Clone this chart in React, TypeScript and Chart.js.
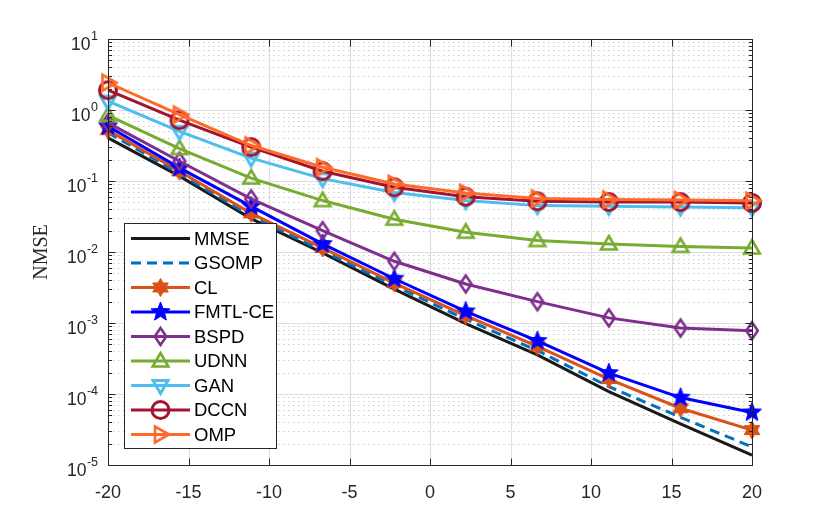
import React, { useEffect, useRef } from 'react';
import { Chart, registerables } from 'chart.js';

Chart.register(...registerables);

// SNR (dB) sample points
const snr = [-20, -15.56, -11.11, -6.67, -2.22, 2.22, 6.67, 11.11, 15.56, 20];

// NMSE values
const mmse = [0.405, 0.117, 0.0295, 0.0097, 0.003, 0.00098, 0.000355, 0.000108, 3.8e-5, 1.38e-5];
const gsomp = [0.48, 0.127, 0.032, 0.0104, 0.00335, 0.00113, 0.00041, 0.000127, 4.7e-5, 1.8e-5];
const cl = [0.52, 0.137, 0.035, 0.0114, 0.00365, 0.00127, 0.00047, 0.000162, 6.3e-5, 3.1e-5];
const fmtl = [0.59, 0.153, 0.044, 0.013, 0.0042, 0.00146, 0.00056, 0.000197, 8.9e-5, 5.5e-5];
const bspd = [0.66, 0.19, 0.056, 0.02, 0.0074, 0.00355, 0.002, 0.00118, 0.00085, 0.00078];
const udnn = [0.84, 0.286, 0.11, 0.053, 0.029, 0.019, 0.0145, 0.013, 0.012, 0.0114];
const gan = [1.33, 0.5, 0.21, 0.108, 0.069, 0.053, 0.045, 0.044, 0.043, 0.042];
const dccn = [1.9, 0.72, 0.3, 0.137, 0.0815, 0.06, 0.0518, 0.0507, 0.0505, 0.049];
const omp = [2.42, 0.86, 0.316, 0.156, 0.091, 0.068, 0.0565, 0.0547, 0.054, 0.0525];

// axis ticks
const xTicks = [-20, -15, -10, -5, 0, 5, 10, 15, 20];
const yExponents = [-5, -4, -3, -2, -1, 0, 1];

type Shape = 'none' | 'hexagram' | 'pentagram' | 'diamond' | 'triUp' | 'triDown' | 'circle' | 'triRight';

interface Series {
  label: string;
  data: number[];
  color: string;
  shape: Shape;
  dash: number[];
}

const series: Series[] = [
  { label: 'MMSE', data: mmse, color: '#1a1a1a', shape: 'none', dash: [] },
  { label: 'GSOMP', data: gsomp, color: '#0072BD', shape: 'none', dash: [10, 6] },
  { label: 'CL', data: cl, color: '#D95319', shape: 'hexagram', dash: [] },
  { label: 'FMTL-CE', data: fmtl, color: '#0000FF', shape: 'pentagram', dash: [] },
  { label: 'BSPD', data: bspd, color: '#7E2F8E', shape: 'diamond', dash: [] },
  { label: 'UDNN', data: udnn, color: '#77AC30', shape: 'triUp', dash: [] },
  { label: 'GAN', data: gan, color: '#4DBEEE', shape: 'triDown', dash: [] },
  { label: 'DCCN', data: dccn, color: '#A2142F', shape: 'circle', dash: [] },
  { label: 'OMP', data: omp, color: '#FF6929', shape: 'triRight', dash: [] },
];

const FONT = '"Liberation Sans", Arial, Helvetica, sans-serif';
const AXIS_COLOR = '#262626';
const LINE_W = 3;

function starPath(ctx: CanvasRenderingContext2D, n: number, ro: number, ri: number) {
  ctx.beginPath();
  for (let i = 0; i < n * 2; i++) {
    const r = i % 2 === 0 ? ro : ri;
    const a = -Math.PI / 2 + (i * Math.PI) / n;
    const px = r * Math.cos(a);
    const py = r * Math.sin(a);
    if (i === 0) ctx.moveTo(px, py);
    else ctx.lineTo(px, py);
  }
  ctx.closePath();
}

// draws a marker centred on (0,0)
function drawShape(ctx: CanvasRenderingContext2D, shape: Shape, color: string) {
  ctx.strokeStyle = color;
  ctx.fillStyle = color;
  ctx.lineWidth = 2.6;
  ctx.lineJoin = 'miter';
  ctx.setLineDash([]);
  switch (shape) {
    case 'pentagram':
      starPath(ctx, 5, 10, 4.3);
      ctx.fill();
      ctx.lineWidth = 1;
      ctx.stroke();
      break;
    case 'hexagram':
      starPath(ctx, 6, 9, 5.2);
      ctx.fill();
      ctx.lineWidth = 1;
      ctx.stroke();
      break;
    case 'diamond':
      ctx.beginPath();
      ctx.moveTo(0, -8.5);
      ctx.lineTo(5.8, 0);
      ctx.lineTo(0, 8.5);
      ctx.lineTo(-5.8, 0);
      ctx.closePath();
      ctx.stroke();
      break;
    case 'triUp':
      ctx.beginPath();
      ctx.moveTo(0, -8);
      ctx.lineTo(7.8, 5.5);
      ctx.lineTo(-7.8, 5.5);
      ctx.closePath();
      ctx.stroke();
      break;
    case 'triDown':
      ctx.lineWidth = 3;
      ctx.beginPath();
      ctx.moveTo(0, 8);
      ctx.lineTo(7.5, -5);
      ctx.lineTo(-7.5, -5);
      ctx.closePath();
      ctx.stroke();
      break;
    case 'triRight':
      ctx.beginPath();
      ctx.moveTo(8.5, 0);
      ctx.lineTo(-5.5, -8);
      ctx.lineTo(-5.5, 8);
      ctx.closePath();
      ctx.stroke();
      break;
    case 'circle':
      ctx.lineWidth = 3;
      ctx.beginPath();
      ctx.arc(0, 0, 8.5, 0, Math.PI * 2);
      ctx.stroke();
      break;
    default:
      break;
  }
}

function markerCanvas(shape: Shape, color: string): HTMLCanvasElement {
  const size = 28;
  const c = document.createElement('canvas');
  c.width = size;
  c.height = size;
  const ctx = c.getContext('2d');
  if (ctx) {
    ctx.translate(size / 2, size / 2);
    drawShape(ctx, shape, color);
  }
  return c;
}

const matlabAxes = {
  id: 'matlabAxes',
  beforeDatasetsDraw(chart: Chart) {
    const { ctx, chartArea: a } = chart;
    const x = chart.scales.x;
    const y = chart.scales.y;
    ctx.save();
    // minor dotted grid
    ctx.strokeStyle = '#cccccc';
    ctx.lineWidth = 1;
    ctx.setLineDash([1.5, 3.5]);
    for (let e = -5; e < 1; e++) {
      for (let m = 2; m <= 9; m++) {
        const py = Math.round(y.getPixelForValue(m * Math.pow(10, e))) + 0.5;
        ctx.beginPath();
        ctx.moveTo(a.left, py);
        ctx.lineTo(a.right, py);
        ctx.stroke();
      }
    }
    // major grid
    ctx.setLineDash([]);
    ctx.strokeStyle = '#dedede';
    ctx.lineWidth = 1.2;
    for (let e = -4; e <= 0; e++) {
      const py = Math.round(y.getPixelForValue(Math.pow(10, e))) + 0.5;
      ctx.beginPath();
      ctx.moveTo(a.left, py);
      ctx.lineTo(a.right, py);
      ctx.stroke();
    }
    xTicks.slice(1, -1).forEach((v) => {
      const px = Math.round(x.getPixelForValue(v)) + 0.5;
      ctx.beginPath();
      ctx.moveTo(px, a.top);
      ctx.lineTo(px, a.bottom);
      ctx.stroke();
    });
    ctx.restore();
  },
  afterDatasetsDraw(chart: Chart) {
    const { ctx, chartArea: a } = chart;
    const x = chart.scales.x;
    const y = chart.scales.y;
    ctx.save();
    ctx.strokeStyle = AXIS_COLOR;
    ctx.lineWidth = 1;
    ctx.setLineDash([]);
    const l = Math.round(a.left) + 0.5;
    const r = Math.round(a.right) + 0.5;
    const t = Math.round(a.top) + 0.5;
    const b = Math.round(a.bottom) + 0.5;
    ctx.strokeRect(l, t, r - l, b - t);
    ctx.beginPath();
    for (let e = -5; e <= 1; e++) {
      for (let m = 1; m <= 9; m++) {
        const v = m * Math.pow(10, e);
        if (v > 10.0001) break;
        const py = Math.round(y.getPixelForValue(v)) + 0.5;
        const len = m === 1 ? 7 : 3.5;
        ctx.moveTo(l, py);
        ctx.lineTo(l + len, py);
        ctx.moveTo(r, py);
        ctx.lineTo(r - len, py);
      }
    }
    xTicks.forEach((v) => {
      const px = Math.round(x.getPixelForValue(v)) + 0.5;
      ctx.moveTo(px, b);
      ctx.lineTo(px, b - 7);
      ctx.moveTo(px, t);
      ctx.lineTo(px, t + 7);
    });
    ctx.stroke();
    ctx.restore();
  },
  afterDraw(chart: Chart) {
    const { ctx } = chart;
    const y = chart.scales.y;
    ctx.save();
    // y tick labels 10^n
    ctx.fillStyle = AXIS_COLOR;
    ctx.textAlign = 'left';
    ctx.textBaseline = 'alphabetic';
    const rightEdge = 98;
    yExponents.forEach((e) => {
      const py = y.getPixelForValue(Math.pow(10, e));
      const sup = String(e);
      ctx.font = `12.5px ${FONT}`;
      const supW = ctx.measureText(sup).width;
      ctx.font = `17.5px ${FONT}`;
      const baseW = ctx.measureText('10').width;
      ctx.fillText('10', rightEdge - supW - baseW - 0.5, py + 10.5);
      ctx.font = `12.5px ${FONT}`;
      ctx.fillText(sup, rightEdge - supW, py + 0.5);
    });
    // y axis title
    ctx.save();
    ctx.translate(42, 252);
    ctx.rotate(-Math.PI / 2);
    ctx.font = '20px "Liberation Serif", "Times New Roman", serif';
    ctx.textAlign = 'center';
    ctx.textBaseline = 'middle';
    ctx.fillText('NMSE', 0, 0);
    ctx.restore();

    // legend inside the axes
    const lx = 124.5;
    const ly = 223.5;
    const lw = 152;
    const lh = 225;
    ctx.fillStyle = '#ffffff';
    ctx.fillRect(lx, ly, lw, lh);
    ctx.strokeStyle = AXIS_COLOR;
    ctx.lineWidth = 1;
    ctx.strokeRect(lx, ly, lw, lh);
    series.forEach((s, i) => {
      const ry = 238.5 + i * 24.5;
      ctx.save();
      ctx.strokeStyle = s.color;
      ctx.lineWidth = LINE_W;
      ctx.setLineDash(s.dash);
      ctx.beginPath();
      ctx.moveTo(131, ry);
      ctx.lineTo(190, ry);
      ctx.stroke();
      ctx.translate(160.5, ry);
      drawShape(ctx, s.shape, s.color);
      ctx.restore();
      ctx.fillStyle = '#000000';
      ctx.font = `18.5px ${FONT}`;
      ctx.textAlign = 'left';
      ctx.textBaseline = 'middle';
      ctx.fillText(s.label, 194, ry + 1);
    });
    ctx.restore();
  },
};

const App: React.FC = () => {
  const canvasRef = useRef<HTMLCanvasElement | null>(null);
  const chartInstance = useRef<Chart | null>(null);

  useEffect(() => {
    if (!canvasRef.current) return;
    if (chartInstance.current) {
      chartInstance.current.destroy();
    }
    const ctx = canvasRef.current.getContext('2d');
    if (!ctx) return;

    const datasets = series.map((s, i) => ({
      label: s.label,
      data: snr.map((x, k) => ({ x, y: s.data[k] })),
      borderColor: s.color,
      backgroundColor: s.color,
      borderWidth: LINE_W,
      borderDash: s.dash,
      pointStyle: s.shape === 'none' ? false : markerCanvas(s.shape, s.color),
      pointRadius: s.shape === 'none' ? 0 : 6,
      pointHoverRadius: s.shape === 'none' ? 0 : 6,
      tension: 0,
      fill: false,
      clip: false as const,
      order: series.length - i,
    }));

    chartInstance.current = new Chart(ctx, {
      type: 'line',
      data: { datasets: datasets as any },
      options: {
        animation: false,
        responsive: true,
        maintainAspectRatio: false,
        events: [],
        layout: { padding: { left: 0, right: 78, top: 39, bottom: 0 } },
        plugins: {
          legend: { display: false },
          tooltip: { enabled: false },
        },
        scales: {
          x: {
            type: 'linear',
            min: -20,
            max: 20,
            afterBuildTicks: (scale: any) => {
              scale.ticks = xTicks.map((v) => ({ value: v }));
            },
            afterFit: (scale: any) => {
              scale.height = 61;
            },
            ticks: {
              autoSkip: false,
              maxRotation: 0,
              padding: 17,
              color: AXIS_COLOR,
              font: { family: FONT, size: 18 },
              callback: (v: any) => String(v),
            },
            grid: { display: false, drawTicks: false },
            border: { display: false },
          },
          y: {
            type: 'logarithmic',
            min: 1e-5,
            max: 10,
            afterFit: (scale: any) => {
              scale.width = 108;
            },
            ticks: { display: false },
            grid: { display: false, drawTicks: false },
            border: { display: false },
          },
        },
      },
      plugins: [matlabAxes],
    });

    return () => {
      if (chartInstance.current) {
        chartInstance.current.destroy();
        chartInstance.current = null;
      }
    };
  }, []);

  return (
    <div style={{ position: 'absolute', left: 0, top: 0, width: '830px', height: '526px', background: '#ffffff' }}>
      <canvas ref={canvasRef} />
    </div>
  );
};

export default App;
